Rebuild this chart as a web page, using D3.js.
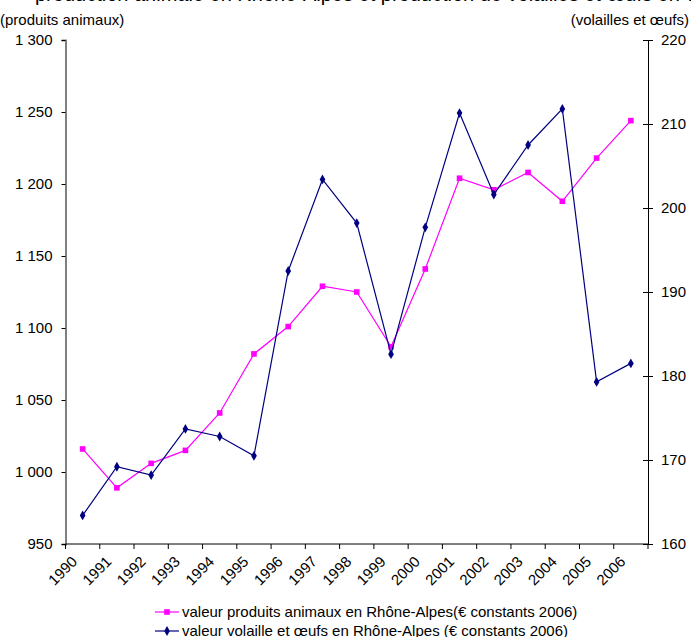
<!DOCTYPE html>
<html><head><meta charset="utf-8">
<script src="https://cdn.jsdelivr.net/npm/d3@7"></script>
<style>
body{margin:0;background:#fff;}
svg text{font-family:"Liberation Sans",Arial,sans-serif;fill:#000;}
</style></head>
<body>
<svg id="c" width="691" height="637"></svg>
<script>
const years = ["1990","1991","1992","1993","1994","1995","1996","1997","1998","1999","2000","2001","2002","2003","2004","2005","2006"];
const produitsAnimaux = [1016,989,1006,1015,1041,1082,1101,1129,1125,1087,1141,1204,1196,1208,1188,1218,1244];
const volaillesOeufs = [163.4,169.2,168.2,173.7,172.8,170.5,192.5,203.4,198.2,182.6,197.7,211.3,201.6,207.5,211.8,179.3,181.5];
const leftTicks = [950,1000,1050,1100,1150,1200,1250,1300];
const rightTicks = [160,170,180,190,200,210,220];
const seriesNames = ["valeur produits animaux en Rhône-Alpes(€ constants 2006)","valeur volaille et œufs en Rhône-Alpes (€ constants 2006)"];
const title = "production animale en Rhône-Alpes et production de volailles et œufs en valeur";

const svg = d3.select("#c");
const L = 65.5, R = 648, T = 40, B = 544;
const x = d3.scaleBand().domain(years).range([L, R]);
const yL = d3.scaleLinear().domain([950,1300]).range([B, T]);
const yR = d3.scaleLinear().domain([160,220]).range([B, T]);
const fmt = v => d3.format(",")(v).replace(/,/g, " ");

// title (mostly cut off at top, as in the reference)
svg.append("text").attr("x", 35).attr("y", 0.6)
  .style("font-size","20px").text(title);

// axis titles
svg.append("text").attr("x", 0).attr("y", 25).style("font-size","15px").text("(produits animaux)");
svg.append("text").attr("x", 689).attr("y", 25).attr("text-anchor","end").style("font-size","15px").text("(volailles et œufs)");

// left axis
const gl = svg.append("g").attr("transform", `translate(${L},0)`)
  .call(d3.axisLeft(yL).tickValues(leftTicks).tickFormat(fmt).tickSize(4).tickPadding(9));
gl.select(".domain").attr("stroke","#808080").attr("stroke-width",2);
gl.selectAll(".tick line").attr("stroke","#000");
gl.selectAll("text").style("font-size","15px").style("font-family","Liberation Sans, Arial, sans-serif");

// right axis
const gr = svg.append("g").attr("transform", `translate(${R},0)`)
  .call(d3.axisRight(yR).tickValues(rightTicks).tickSize(5).tickPadding(8));
gr.select(".domain").attr("stroke","#000");
gr.selectAll(".tick line").attr("x1",-5).attr("x2",5).attr("stroke","#000");
gr.selectAll("text").style("font-size","15px").style("font-family","Liberation Sans, Arial, sans-serif");

// x axis with ticks at band boundaries
const gx = svg.append("g").attr("transform", `translate(0,${B})`);
gx.append("line").attr("x1", L).attr("x2", R).attr("stroke","#000");
const bounds = years.map(y => x(y)).concat([R]);
gx.selectAll("line.tk").data(bounds).enter().append("line").attr("class","tk")
  .attr("x1", d => d).attr("x2", d => d).attr("y1", 0).attr("y2", 5).attr("stroke","#000");
gx.selectAll("text").data(years).enter().append("text")
  .attr("transform", d => `translate(${x(d) + x.bandwidth()/2 - 12},${11}) rotate(-45)`)
  .attr("text-anchor","end").attr("dy","0.71em")
  .style("font-size","15px").text(d => d);

const cx = d => x(d) + x.bandwidth()/2;
const pink = "#FF00FF", navy = "#000080";
// pink series
svg.append("path").datum(produitsAnimaux)
  .attr("d", d3.line().x((d,i)=>cx(years[i])).y(d=>yL(d)))
  .attr("fill","none").attr("stroke",pink).attr("stroke-width",1.2);
svg.selectAll("rect.pm").data(produitsAnimaux).enter().append("rect").attr("class","pm")
  .attr("x",(d,i)=>cx(years[i])-2.8).attr("y",d=>yL(d)-2.8).attr("width",5.6).attr("height",5.6).attr("fill",pink);

// navy series
svg.append("path").datum(volaillesOeufs)
  .attr("d", d3.line().x((d,i)=>cx(years[i])).y(d=>yR(d)))
  .attr("fill","none").attr("stroke",navy).attr("stroke-width",1.2);
const dia = d3.symbol().type(d3.symbolDiamond).size(28);
svg.selectAll("path.nm").data(volaillesOeufs).enter().append("path").attr("class","nm")
  .attr("transform",(d,i)=>`translate(${cx(years[i])},${yR(d)})`).attr("d",dia()).attr("fill",navy);

// legend
const lg = svg.append("g");
const rows = [{name:seriesNames[0], c:pink, t:"sq", y:612},{name:seriesNames[1], c:navy, t:"di", y:631}];
rows.forEach(r => {
  lg.append("line").attr("x1",155).attr("x2",179).attr("y1",r.y).attr("y2",r.y).attr("stroke",r.c).attr("stroke-width",1.2);
  if (r.t==="sq") lg.append("rect").attr("x",167-2.8).attr("y",r.y-2.8).attr("width",5.6).attr("height",5.6).attr("fill",r.c);
  else lg.append("path").attr("transform",`translate(167,${r.y})`).attr("d",dia()).attr("fill",r.c);
  lg.append("text").attr("x",182).attr("y",r.y+5).style("font-size","15px").text(r.name);
});
</script>
</body></html>
